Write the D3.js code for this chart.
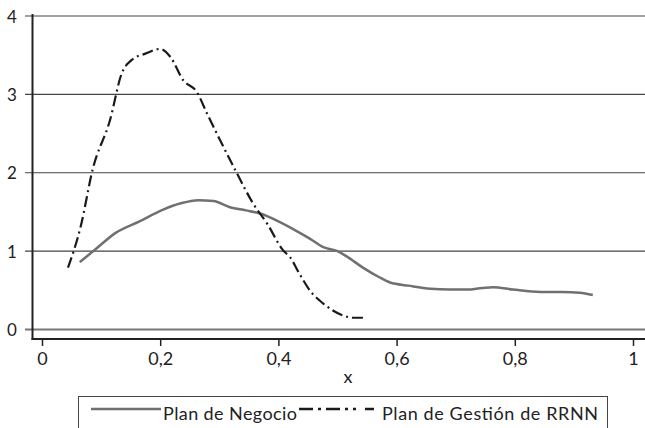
<!DOCTYPE html>
<html><head><meta charset="utf-8">
<script src="https://d3js.org/d3.v7.min.js"></script>
<style>body{margin:0;background:#fff}svg{display:block}text{font-family:Lato,"Open Sans",sans-serif;fill:#222}</style>
</head><body><svg width="645" height="428"></svg>
<script>
const negocioX = [0.064,0.09,0.124,0.165,0.205,0.235,0.264,0.29,0.318,0.345,0.369,0.40,0.437,0.453,0.476,0.50,0.516,0.543,0.57,0.589,0.62,0.657,0.69,0.719,0.745,0.763,0.797,0.843,0.88,0.91,0.932];
const negocioY = [0.86,1.02,1.23,1.38,1.53,1.61,1.65,1.64,1.56,1.52,1.48,1.38,1.23,1.16,1.05,1.0,0.93,0.79,0.67,0.60,0.56,0.52,0.51,0.51,0.53,0.54,0.51,0.48,0.48,0.47,0.44];
const gestionX = [0.044,0.065,0.086,0.115,0.135,0.152,0.175,0.2,0.217,0.239,0.262,0.279,0.301,0.33,0.357,0.381,0.408,0.42,0.435,0.453,0.476,0.509,0.526,0.548];
const gestionY = [0.79,1.30,2.05,2.67,3.27,3.44,3.52,3.58,3.48,3.18,3.03,2.76,2.42,1.99,1.61,1.35,1.01,0.92,0.72,0.50,0.33,0.18,0.15,0.15];
const xTicks = [0,0.2,0.4,0.6,0.8,1];
const xTickLabels = ["0","0,2","0,4","0,6","0,8","1"];
const yTicks = [0,1,2,3,4];
const seriesNames = ["Plan de Negocio","Plan de Gestión de RRNN"];

const svg = d3.select("svg");
const x = d3.scaleLinear().domain([0,1]).range([42,633]);
const y = d3.scaleLinear().domain([0,4]).range([329.5,16]);

// gridlines
svg.append("g").selectAll("line").data(yTicks).join("line")
  .attr("x1",25).attr("x2",645).attr("y1",d=>y(d)).attr("y2",d=>y(d))
  .attr("stroke",d=>d===0?"#777":"#444").attr("stroke-width",d=>d===0?2:1.2);
svg.append("g").selectAll("text").data(yTicks).join("text")
  .attr("x",12).attr("y",d=>y(d)+6.5).attr("text-anchor","middle").attr("font-size",17).text(d=>d);

// y axis line
svg.append("line").attr("x1",32.5).attr("x2",32.5).attr("y1",14).attr("y2",340).attr("stroke","#222").attr("stroke-width",2);
// x axis
const xAxis = d3.axisBottom(x).tickValues(xTicks).tickFormat((d,i)=>xTickLabels[i]).tickSize(7).tickPadding(6).tickSizeOuter(0);
const gx = svg.append("g").attr("transform","translate(0,339)").call(xAxis);
gx.select(".domain").remove();
gx.selectAll(".tick line").attr("stroke","#222").attr("stroke-width",1.5);
gx.selectAll(".tick text").attr("font-size",18).attr("font-family","Lato,sans-serif").attr("fill","#222");
svg.append("line").attr("x1",31.5).attr("x2",645).attr("y1",339).attr("y2",339).attr("stroke","#222").attr("stroke-width",2);
svg.append("text").attr("x",348).attr("y",383).attr("text-anchor","middle").attr("font-size",18).text("x");

const line = d3.line().x(d=>x(d[0])).y(d=>y(d[1])).curve(d3.curveMonotoneX);
svg.append("path").datum(d3.zip(negocioX,negocioY)).attr("d",line)
  .attr("fill","none").attr("stroke","#707070").attr("stroke-width",2.5);
svg.append("path").datum(d3.zip(gestionX,gestionY)).attr("d",line)
  .attr("fill","none").attr("stroke","#1a1a1a").attr("stroke-width",2.2).attr("stroke-dasharray","11,4,2,4");

// legend
svg.append("rect").attr("x",78.5).attr("y",396.5).attr("width",529).attr("height",40).attr("fill","#fff").attr("stroke","#444").attr("stroke-width",1);
svg.append("line").attr("x1",91).attr("x2",161).attr("y1",409).attr("y2",409).attr("stroke","#707070").attr("stroke-width",2.5);
svg.append("text").attr("x",163).attr("y",420).attr("font-size",18).attr("textLength",134).attr("lengthAdjust","spacing").text(seriesNames[0]);
svg.append("line").attr("x1",299).attr("x2",374).attr("y1",409).attr("y2",409).attr("stroke","#1a1a1a").attr("stroke-width",2.4).attr("stroke-dasharray","14,5,3,5,14,5,3,5,3,9");
svg.append("text").attr("x",382).attr("y",420).attr("font-size",18).attr("textLength",216).attr("lengthAdjust","spacing").text(seriesNames[1]);
</script></body></html>
